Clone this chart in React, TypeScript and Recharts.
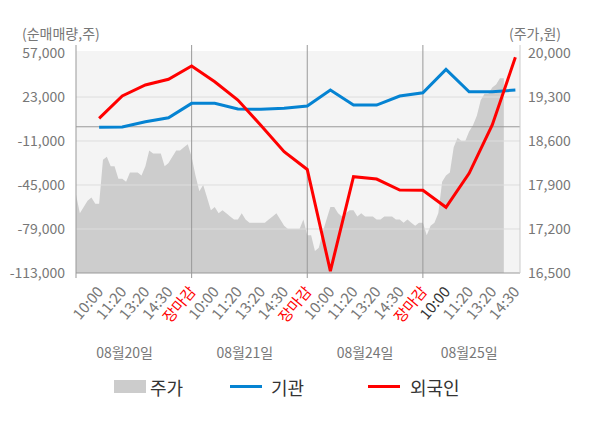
import React from 'react';
import {
  ComposedChart, Area, Line, XAxis, YAxis, ReferenceLine, ReferenceArea,
} from 'recharts';

// label slots: 5 per trading day, the last one is the close
const timeLabels = ['10:00', '11:20', '13:20', '14:30', '장마감'];
const dayNames = ['08월20일', '08월21일', '08월24일', '08월25일'];
const dayNamePos = [2.1, 7.3, 12.5, 17];

// net buy volume (shares) at each label slot 1..19
const foreign = [
  6500, 23800, 32300, 36700, 47000,
  34800, 20700, 1000, -19300, -33000,
  -111500, -38600, -40400, -48900, -49000,
  -62200, -36000, 1400, 53700,
];
const institution = [
  -300, -200, 3900, 7000, 18100,
  18100, 13700, 13500, 14300, 16000,
  28400, 16800, 16800, 23800, 26300,
  44400, 27100, 27100, 28400,
];

// share price (won), 6 samples per label slot
const priceDay1 = [
  17750, 17450, 17550, 17650, 17700, 17600, 17600, 18300, 18350, 18200,
  18200, 18000, 18000, 17950, 18100, 18100, 18100, 18050, 18200, 18450,
  18400, 18400, 18400, 18200, 18250, 18350, 18450, 18450, 18500, 18550,
];
const priceDay2 = [
  18350, 18050, 17800, 17900, 17700, 17500, 17550, 17450, 17500, 17450,
  17400, 17350, 17350, 17450, 17350, 17300, 17300, 17300, 17300, 17300,
  17350, 17400, 17450, 17350, 17250, 17200, 17200, 17200, 17200, 17350,
];
const priceDay3 = [
  17100, 17100, 16850, 16900, 17150, 17350, 17550, 17550, 17450, 17400,
  17450, 17500, 17500, 17400, 17450, 17400, 17400, 17400, 17350, 17350,
  17400, 17400, 17400, 17350, 17350, 17300, 17350, 17300, 17250, 17300,
];
const priceDay4 = [
  17300, 17100, 17250, 17300, 17450, 17950, 18050, 18100, 18500, 18650,
  18600, 18600, 18750, 18850, 19000, 19250, 19350, 19350, 19450, 19500,
  19600, 19600,
];
const priceDays = [priceDay1, priceDay2, priceDay3, priceDay4];

const leftTicks = [-113000, -79000, -45000, -11000, 23000, 57000];
const rightTicks = [16500, 17200, 17900, 18600, 19300, 20000];
const slotTicks = foreign.map((_, i) => i + 1);
const dayBounds = [0, 5, 10, 15];

const PER_SLOT = 6;

const rows = new Map<number, any>();
priceDays.forEach((arr, d) => {
  arr.forEach((p, k) => {
    const key = d * 5 * PER_SLOT + k;
    rows.set(key, { x: key / PER_SLOT, price: p });
  });
});
foreign.forEach((v, i) => {
  const key = (i + 1) * PER_SLOT;
  const r = rows.get(key) ?? { x: key / PER_SLOT };
  r.foreign = v;
  r.inst = institution[i];
  rows.set(key, r);
});
const chartData = Array.from(rows.values()).sort((a, b) => a.x - b.x);

const GRAY = '#777777';

const TimeTick = (props: any) => {
  const { x, y, payload } = props;
  const i = Math.round(payload.value);
  const label = timeLabels[(i - 1) % 5];
  const color = label === '장마감' ? '#ff0000' : i === 16 ? '#333333' : GRAY;
  const ax = x + 5;
  const ay = y + 11;
  return (
    <text x={ax} y={ay} transform={`rotate(-50 ${ax} ${ay})`} textAnchor="end" fill={color} fontSize={15}>
      {label}
    </text>
  );
};

const DayTick = (props: any) => {
  const { x, y, payload } = props;
  const idx = dayNamePos.indexOf(payload.value);
  return (
    <text x={x} y={y + 12} textAnchor="middle" fill={GRAY} fontSize={14}>
      {dayNames[idx]}
    </text>
  );
};

const fmt = (v: number) => v.toLocaleString('en-US');

const abs = (left: number, top: number, extra: React.CSSProperties = {}): React.CSSProperties => ({
  position: 'absolute', left, top, ...extra,
});

export default function App() {
  return (
    <div style={{ position: 'absolute', left: 0, top: 0, width: 600, height: 428, background: '#fff', fontFamily: '"Noto Sans CJK KR", "Noto Sans", sans-serif' }}>
      <div style={abs(22, 25, { fontSize: 14, color: GRAY, lineHeight: '16px' })}>(순매매량,주)</div>
      <div style={abs(509, 25, { fontSize: 14, color: GRAY, lineHeight: '16px' })}>(주가,원)</div>

      <ComposedChart width={600} height={428} data={chartData} margin={{ top: 45, right: 0, left: 0, bottom: 60 }}>
        <XAxis
          xAxisId="a" dataKey="x" type="number" domain={[0, 19.2]} ticks={slotTicks} interval={0}
          allowDataOverflow tick={<TimeTick />} tickLine={false} axisLine={{ stroke: '#999999' }} height={65}
        />
        <XAxis
          xAxisId="b" dataKey="x" type="number" domain={[0, 19.2]} ticks={dayNamePos} interval={0}
          allowDataOverflow tick={<DayTick />} tickLine={false} axisLine={false} height={30}
        />
        <YAxis
          yAxisId="left" type="number" domain={[-113000, 63200]} ticks={leftTicks} allowDataOverflow
          width={76} axisLine={false} tickLine={false} tickMargin={5} tickFormatter={fmt}
          tick={{ fill: GRAY, fontSize: 14 }}
        />
        <YAxis
          yAxisId="right" orientation="right" type="number" domain={[16500, 20127]} ticks={rightTicks}
          allowDataOverflow width={80} axisLine={{ stroke: '#cccccc' }} tickLine={false} tickFormatter={fmt}
          tick={{ fill: GRAY, fontSize: 14 }}
        />

        <ReferenceArea xAxisId="a" yAxisId="left" x1={0} x2={19.2} y1={-113000} y2={58500} fill="#f4f4f4" fillOpacity={1} stroke="none" />
        {leftTicks.slice(1, 5).map((t) => (
          <ReferenceLine key={t} xAxisId="a" yAxisId="left" y={t} stroke="#dddddd" strokeWidth={1} />
        ))}

        <Area
          xAxisId="a" yAxisId="right" type="linear" dataKey="price" fill="#cdcdcd" fillOpacity={1}
          stroke="none" isAnimationActive={false} dot={false} activeDot={false}
        />

        <ReferenceLine xAxisId="a" yAxisId="left" y={0} stroke="#999999" strokeWidth={1} />
        {dayBounds.map((b) => (
          <ReferenceLine
            key={b} xAxisId="a" yAxisId="left" ifOverflow="visible" stroke="#999999" strokeWidth={1}
            segment={[{ x: b, y: -116900 }, { x: b, y: 63200 }]}
          />
        ))}

        <Line
          xAxisId="a" yAxisId="left" type="linear" dataKey="inst" stroke="#0583d2" strokeWidth={3}
          dot={false} activeDot={false} connectNulls isAnimationActive={false}
        />
        <Line
          xAxisId="a" yAxisId="left" type="linear" dataKey="foreign" stroke="#ff0000" strokeWidth={3}
          dot={false} activeDot={false} connectNulls isAnimationActive={false}
        />
      </ComposedChart>

      <div style={abs(114, 380, { width: 32, height: 13, background: '#cccccc' })} />
      <div style={abs(150, 375, { fontSize: 18, color: '#333', lineHeight: '24px' })}>주가</div>
      <div style={abs(230, 385, { width: 32, height: 3, background: '#0583d2' })} />
      <div style={abs(271, 375, { fontSize: 18, color: '#333', lineHeight: '24px' })}>기관</div>
      <div style={abs(368, 385, { width: 32, height: 3, background: '#ff0000' })} />
      <div style={abs(410, 375, { fontSize: 18, color: '#333', lineHeight: '24px' })}>외국인</div>
    </div>
  );
}
